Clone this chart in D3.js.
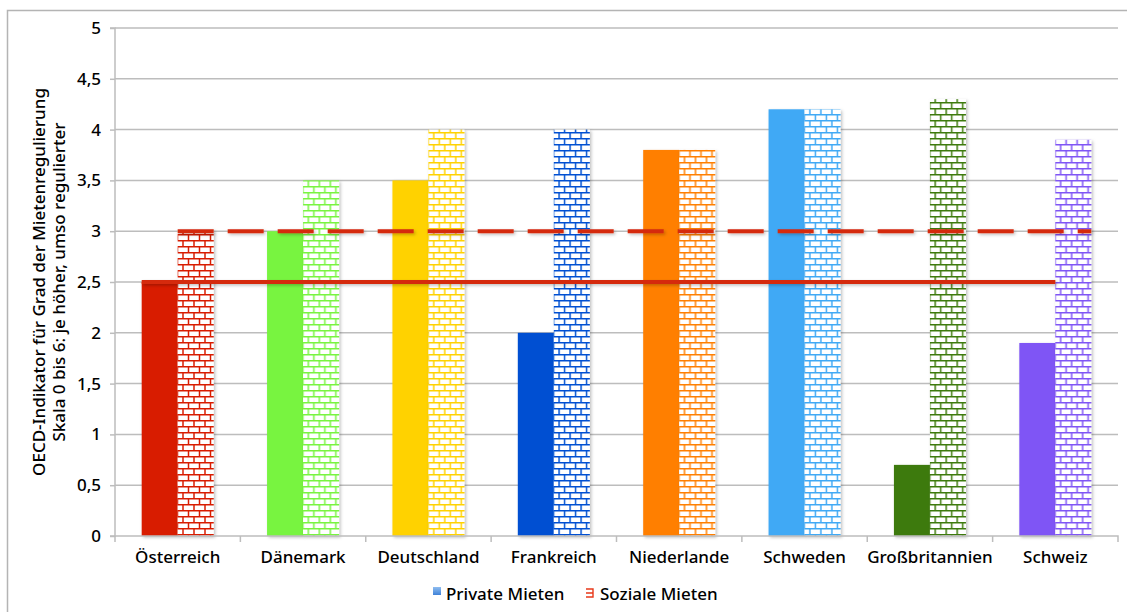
<!DOCTYPE html>
<html>
<head>
<meta charset="utf-8">
<script src="https://cdn.jsdelivr.net/npm/d3@7"></script>
<style>
  html, body { margin: 0; padding: 0; background: #fff; }
  svg { display: block; font-family: "Noto Sans", "Open Sans", sans-serif; font-weight: 500; }
</style>
</head>
<body>
<svg id="chart" width="1127" height="612"></svg>
<script>
// Mietenregulierung nach OECD-Indikator, private vs. soziale Mieten
const categories = ["Österreich", "Dänemark", "Deutschland", "Frankreich", "Niederlande", "Schweden", "Großbritannien", "Schweiz"];
const privateMieten = [2.5, 3.0, 3.5, 2.0, 3.8, 4.2, 0.7, 1.9];
const sozialeMieten = [3.0, 3.5, 4.0, 4.0, 3.8, 4.2, 4.3, 3.9];
const countryColors = ["#d81e05", "#78f440", "#ffd200", "#0050d2", "#ff7f00", "#3fa9f5", "#3e7a0b", "#7f55f5"];
const yTicks = [0, 0.5, 1, 1.5, 2, 2.5, 3, 3.5, 4, 4.5, 5];
const yTickLabels = ["0", "0,5", "1", "1,5", "2", "2,5", "3", "3,5", "4", "4,5", "5"];
const referenceSolid = 2.5;   // Österreich, private Mieten
const referenceDashed = 3.0;  // Österreich, soziale Mieten
const legendLabels = ["Private Mieten", "Soziale Mieten"];
const yTitleLines = ["OECD-Indikator für Grad der Mietenregulierung", "Skala 0 bis 6: je höher, umso regulierter"];

const FONT = 17;
const svg = d3.select("#chart");
const plot = { left: 115, right: 1118, top: 28, bottom: 536 };

const x = d3.scaleBand().domain(categories).range([plot.left, plot.right]).padding(0);
const y = d3.scaleLinear().domain([0, 5]).range([plot.bottom, plot.top]);
const barW = 36;
const sub = d3.scaleBand().domain(["private", "social"])
  .range([x.bandwidth() / 2 - barW, x.bandwidth() / 2 + barW]).padding(0);

const defs = svg.append("defs");
// soft drop shadow under bars and lines
const sh = defs.append("filter").attr("id", "shadow")
  .attr("filterUnits", "userSpaceOnUse")
  .attr("x", 0).attr("y", 0).attr("width", 1127).attr("height", 612);
sh.append("feDropShadow").attr("dx", 1.5).attr("dy", 1.5).attr("stdDeviation", 1.5)
  .attr("flood-color", "#000").attr("flood-opacity", 0.25);

// brick pattern per country colour
countryColors.forEach((c, i) => {
  const p = defs.append("pattern").attr("id", "brick" + i)
    .attr("patternUnits", "userSpaceOnUse").attr("width", 11).attr("height", 12);
  p.append("rect").attr("width", 11).attr("height", 12).attr("fill", "#fff");
  p.append("path")
    .attr("d", "M0,0.75H11 M0,6.75H11 M2,0V6.75 M7.5,6.75V12")
    .attr("stroke", c).attr("stroke-width", 1.5).attr("fill", "none");
});

// legend icon gradient
const lg = defs.append("linearGradient").attr("id", "legendBlue")
  .attr("x1", 0).attr("y1", 0).attr("x2", 0).attr("y2", 1);
lg.append("stop").attr("offset", 0).attr("stop-color", "#8fbdf0");
lg.append("stop").attr("offset", 1).attr("stop-color", "#3f82d8");

// outer frame
svg.append("rect").attr("x", 7.5).attr("y", 10.5).attr("width", 1140).attr("height", 620)
  .attr("fill", "none").attr("stroke", "#b4b4b4").attr("stroke-width", 1.5);

// gridlines
svg.append("g").selectAll("line").data(yTicks.filter(t => t > 0)).join("line")
  .attr("x1", plot.left).attr("x2", plot.right)
  .attr("y1", d => y(d)).attr("y2", d => y(d))
  .attr("stroke", "#bdbdbd").attr("stroke-width", 1.5);

// y axis
const yAxis = d3.axisLeft(y).tickValues(yTicks).tickSize(5).tickPadding(9)
  .tickFormat((d, i) => yTickLabels[i]);
const gy = svg.append("g").attr("transform", `translate(${plot.left},0)`).call(yAxis);
gy.select(".domain").attr("stroke", "#bdbdbd").attr("stroke-width", 1.5).attr("d", `M-5,${plot.bottom}H0V${plot.top}H-5`);
gy.selectAll(".tick line").attr("stroke", "#bdbdbd").attr("stroke-width", 1.5);
gy.selectAll(".tick text").attr("font-size", FONT).attr("fill", "#000")
  .attr("font-family", "'Noto Sans', sans-serif");

// bars
const groups = svg.append("g").selectAll("g").data(categories).join("g")
  .attr("transform", d => `translate(${x(d)},0)`);
groups.append("rect")
  .attr("x", sub("private")).attr("width", sub.bandwidth())
  .attr("y", (d, i) => y(privateMieten[i]))
  .attr("height", (d, i) => y(0) - y(privateMieten[i]))
  .attr("fill", (d, i) => countryColors[i])
  .attr("filter", "url(#shadow)");
groups.append("rect")
  .attr("x", sub("social")).attr("width", sub.bandwidth())
  .attr("y", (d, i) => y(sozialeMieten[i]))
  .attr("height", (d, i) => y(0) - y(sozialeMieten[i]))
  .attr("fill", (d, i) => `url(#brick${i})`)
  .attr("filter", "url(#shadow)");

// x axis
const xAxis = d3.axisBottom(x).tickSize(0).tickPadding(15);
const gx = svg.append("g").attr("transform", `translate(0,${plot.bottom})`).call(xAxis);
gx.select(".domain").attr("stroke", "#bdbdbd").attr("stroke-width", 1.5)
  .attr("d", `M${plot.left},0H${plot.right}V6`);
gx.selectAll(".tick text").attr("font-size", FONT).attr("fill", "#000")
  .attr("font-family", "'Noto Sans', sans-serif");
// category separators
svg.append("g").selectAll("line").data(categories).join("line")
  .attr("x1", d => x(d)).attr("x2", d => x(d))
  .attr("y1", plot.bottom).attr("y2", plot.bottom + 6)
  .attr("stroke", "#bdbdbd").attr("stroke-width", 1.5);

// reference lines
const first = categories[0], last = categories[categories.length - 1];
svg.append("line")
  .attr("x1", x(first) + sub("private")).attr("x2", x(last) + sub("social"))
  .attr("y1", y(referenceSolid)).attr("y2", y(referenceSolid))
  .attr("stroke", "#d52a0c").attr("stroke-width", 4).attr("filter", "url(#shadow)");
svg.append("line")
  .attr("x1", x(first) + sub("social")).attr("x2", x(last) + sub("social") + sub.bandwidth())
  .attr("y1", y(referenceDashed)).attr("y2", y(referenceDashed))
  .attr("stroke", "#d52a0c").attr("stroke-width", 4).attr("stroke-dasharray", "36 14")
  .attr("filter", "url(#shadow)");

// y axis title
const yt = svg.append("text")
  .attr("transform", `translate(45,${(plot.top + plot.bottom) / 2}) rotate(-90)`)
  .attr("text-anchor", "middle").attr("font-size", FONT).attr("fill", "#000");
yt.selectAll("tspan").data(yTitleLines).join("tspan")
  .attr("x", 0).attr("dy", (d, i) => i === 0 ? 0 : 20).text(d => d);

// legend
const legend = svg.append("g").attr("transform", "translate(433,594)");
legend.append("rect").attr("x", 0).attr("y", -7).attr("width", 8).attr("height", 8)
  .attr("fill", "url(#legendBlue)");
legend.append("text").attr("x", 13).attr("y", 0).attr("dy", "0.35em")
  .attr("font-size", FONT).text(legendLabels[0]);
const l2 = legend.append("g").attr("transform", "translate(153,0)");
l2.append("path").attr("d", "M0,-5H7V3H0 M0,-1H7")
  .attr("fill", "none").attr("stroke", "#e8391a").attr("stroke-width", 1.4);
l2.append("text").attr("x", 14).attr("y", 0).attr("dy", "0.35em")
  .attr("font-size", FONT).text(legendLabels[1]);
</script>
</body>
</html>
